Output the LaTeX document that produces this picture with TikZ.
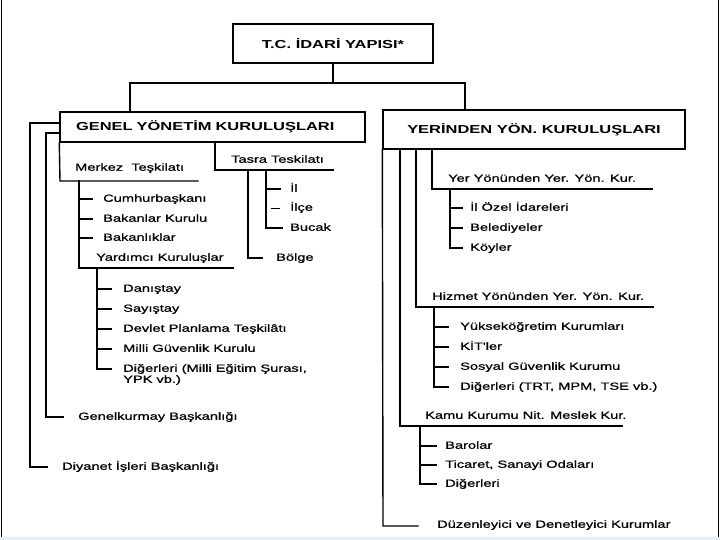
\documentclass[tikz,border=0pt]{standalone}
\usepackage{fontspec}
\setmainfont{Liberation Sans}[FakeStretch=1.42]
\newfontfamily\lblfont{Liberation Sans}[FakeStretch=1.42,FakeBold=0.9]
\definecolor{strip}{RGB}{232,240,247}
\begin{document}
\begin{tikzpicture}[x=1pt,y=-1pt,
  ln/.style={line width=1.4pt, line cap=rect},
  thn/.style={line width=0.8pt},
  lbl/.style={anchor=west, inner sep=0pt, text height=7.5pt, text depth=2pt, font=\lblfont\fontsize{10.3}{11}\selectfont},
  hdr/.style={draw, line width=1.4pt, inner sep=0pt, font=\bfseries\fontsize{11.6}{13}\selectfont}]
\useasboundingbox (0,0) rectangle (720,540);
\fill[white] (0,0) rectangle (720,540);
\fill[strip] (0,537) rectangle (720,540);
\draw[line width=1.5pt] (1.5,0) -- (1.5,537);
\draw[line width=1.5pt] (718.5,0) -- (718.5,537);

% top
\node[hdr, minimum width=200, minimum height=39] (top) at (333,43.5) {T.C. İDARİ YAPISI*};
\node[hdr, minimum width=305, minimum height=30, text width=273, align=left] (genel) at (212.5,127) {GENEL YÖNETİM KURULUŞLARI};
\node[hdr, minimum width=302, minimum height=39] (yer) at (534,129.5) {YERİNDEN YÖN. KURULUŞLARI};

\coordinate (barL) at (130,83);
\coordinate (barR) at (465,83);
\draw[ln] (top.south) -- (top.south |- barL);
\draw[ln] (genel.north -| barL) -- (barL) -- (barR) -- (yer.north -| barR);

% --- GENEL left side
\node[lbl] (merkez) at (75,168) {Merkez\ \ Teşkilatı};
\node[lbl] (tasra) at (231,160) {Tasra Teskilatı};
\draw[ln] (genel.south west) -- (60,181) -- (198,181);
\coordinate (tsx) at (215,170);
\draw[ln] (genel.south -| tsx) -- (tsx) -- (333,170);

% outer lines
\node[lbl] (genkur) at (78,417) {Genelkurmay Başkanlığı};
\node[lbl] (diyanet) at (62,467) {Diyanet İşleri Başkanlığı};
\coordinate (o1) at (30,123);
\coordinate (o2) at (46,133);
\draw[ln] (60,123) -- (o1) -- (o1 |- diyanet.west) -- ++(17,0);
\draw[ln] (60,133) -- (o2) -- (o2 |- genkur.west) -- ++(17,0);

% Merkez children
\node[lbl] (cumhur) at (103,199) {Cumhurbaşkanı};
\node[lbl] (bkurul) at (103,219) {Bakanlar Kurulu};
\node[lbl] (bakan) at (103,238) {Bakanlıklar};
\node[lbl] (yardim) at (96,258) {Yardımcı Kuruluşlar};
\coordinate (ms) at (79,181);
\draw[ln] (ms) -- (79,268) -- (233,268);
\foreach \n in {cumhur,bkurul,bakan} \draw[ln] (ms |- \n.west) -- ++(13,0);

% Tasra children
\node[lbl] (il) at (290,189) {İl};
\node[lbl] (ilce) at (290,208) {İlçe};
\node[lbl] (bucak) at (290,228) {Bucak};
\node[lbl] (bolge) at (276,258) {Bölge};
\coordinate (t1) at (248,170);
\coordinate (t2) at (266,170);
\draw[ln] (t1) -- (t1 |- bolge.west) -- ++(14,0);
\draw[ln] (t2) -- (t2 |- bucak.west) -- ++(16,0);
\draw[ln] (t2 |- il.west) -- ++(14,0);
\draw[thn] ([xshift=5pt]t2 |- ilce.west) -- ++(9,0);

% Yardimci children
\node[lbl] (danis) at (123,289) {Danıştay};
\node[lbl] (sayis) at (123,309) {Sayıştay};
\node[lbl] (dpt) at (123,329) {Devlet Planlama Teşkilâtı};
\node[lbl] (mgk) at (123,349) {Milli Güvenlik Kurulu};
\node[lbl] (dig1) at (123,369) {Diğerleri (Milli Eğitim Şurası,};
\node[lbl] (dig1b) at (123,380) {YPK vb.)};
\coordinate (ys) at (97,268);
\draw[ln] (ys) -- (ys |- dig1.west) -- ++(14,0);
\foreach \n in {danis,sayis,dpt,mgk} \draw[ln] (ys |- \n.west) -- ++(14,0);

% --- YERINDEN side
\node[lbl] (yery) at (448,179) {Yer Yönünden Yer. Yön. Kur.};
\node[lbl] (hiz) at (432,297) {Hizmet Yönünden Yer. Yön. Kur.};
\node[lbl] (kamu) at (425,416) {Kamu Kurumu Nit. Meslek Kur.};
\node[lbl] (duz) at (437,525) {Düzenleyici ve Denetleyici Kurumlar};
\draw[ln] (yer.south west) -- (383,526) -- (418,526);
\draw[ln] (400,149) -- (400,426) -- (622,426);
\draw[ln] (416,149) -- (416,307) -- (653,307);
\draw[ln] (432,149) -- (432,189) -- (652,189);

% Yer children
\node[lbl] (ozel) at (470,208) {İl Özel İdareleri};
\node[lbl] (bel) at (470,228) {Belediyeler};
\node[lbl] (koy) at (470,248) {Köyler};
\coordinate (ws) at (450,189);
\draw[ln] (ws) -- (ws |- koy.west) -- ++(12,0);
\foreach \n in {ozel,bel} \draw[ln] (ws |- \n.west) -- ++(12,0);

% Hizmet children
\node[lbl] (yok) at (460,327) {Yükseköğretim Kurumları};
\node[lbl] (kit) at (460,347) {KİT'ler};
\node[lbl] (sgk) at (460,367) {Sosyal Güvenlik Kurumu};
\node[lbl] (dig2) at (460,387) {Diğerleri (TRT, MPM, TSE vb.)};
\coordinate (hs) at (434,307);
\draw[ln] (hs) -- (hs |- dig2.west) -- ++(14,0);
\foreach \n in {yok,kit,sgk} \draw[ln] (hs |- \n.west) -- ++(14,0);

% Kamu children
\node[lbl] (baro) at (445,446) {Barolar};
\node[lbl] (tic) at (445,465) {Ticaret, Sanayi Odaları};
\node[lbl] (dig3) at (445,484) {Diğerleri};
\coordinate (ks) at (420,426);
\draw[ln] (ks) -- (ks |- dig3.west) -- ++(16,0);
\foreach \n in {baro,tic} \draw[ln] (ks |- \n.west) -- ++(16,0);
\end{tikzpicture}
\end{document}
